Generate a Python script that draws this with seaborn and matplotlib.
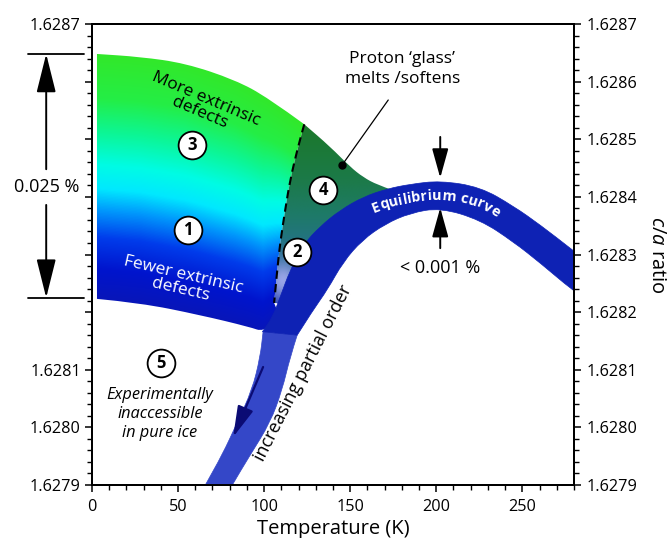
import numpy as np
import matplotlib
matplotlib.use("Agg")
import matplotlib.pyplot as plt
import seaborn as sns
from matplotlib.path import Path
from matplotlib.patches import PathPatch
from matplotlib.colors import LinearSegmentedColormap
from matplotlib.ticker import FixedLocator, FixedFormatter, MultipleLocator
from matplotlib.font_manager import FontProperties, findfont
from matplotlib.ft2font import FT2Font

sns.set_theme(style="ticks")
plt.rcParams["font.family"] = ["Open Sans", "DejaVu Sans"]
plt.rcParams["mathtext.fontset"] = "custom"
plt.rcParams["mathtext.rm"] = "Open Sans"
plt.rcParams["mathtext.it"] = "Open Sans:italic"
for k in ["axes.edgecolor", "xtick.color", "ytick.color", "text.color", "axes.labelcolor"]:
    plt.rcParams[k] = "black"

# ---------------- data ----------------
x_ticks = [0, 50, 100, 150, 200, 250]
y_ticks = [1.6279, 1.6280, 1.6281, 1.6282, 1.6283, 1.6284, 1.6285, 1.6286, 1.6287]
y_left_labels = ["1.6279", "1.6280", "1.6281", "", "", "", "", "", "1.6287"]
y_right_labels = ["1.6279", "1.6280", "1.6281", "1.6282", "1.6283",
                  "1.6284", "1.6285", "1.6286", "1.6287"]

# defect region (left of the glass transition)
main_top_T = [2.9, 27.9, 54.1, 83.1, 102.3, 123.3]
main_top_ca = [1.628648, 1.628643, 1.628632, 1.628603, 1.628572, 1.628526]
dash_T = [123.3, 119.2, 115.1, 112.2, 109.3, 107.6, 105.8]
dash_ca = [1.628526, 1.628481, 1.628429, 1.628377, 1.628320, 1.628273, 1.628216]
main_bot_T = [109.3, 99.4, 91.9, 62.8, 27.9, 2.9]
main_bot_ca = [1.628190, 1.628166, 1.628174, 1.628195, 1.628216, 1.628223]

# region 4 (proton glass softening)
r4_top_T = [123.3, 138.4, 150.0, 157.6, 165.7, 174.4]
r4_top_ca = [1.628526, 1.628487, 1.628452, 1.628434, 1.628421, 1.628412]
r4_bot_T = [174.4, 171.5, 157.6, 144.2, 132.6, 122.7, 115.1, 109.3]
r4_bot_ca = [1.628405, 1.628400, 1.628390, 1.628370, 1.628340, 1.628310, 1.628265, 1.628215]

# equilibrium band, upper (dark) part: upper edge and lower edge
band_top_T = [99.0, 104.7, 109.3, 115.1, 122.7, 132.6, 144.2, 157.6, 171.5,
              184.9, 202.3, 225.6, 244.8, 260.5, 279.1, 295.3]
band_top_ca = [1.628166, 1.628190, 1.628226, 1.628273, 1.628317, 1.628349, 1.628377,
               1.628400, 1.628414, 1.628422, 1.628428, 1.628417, 1.628384, 1.628351,
               1.628308, 1.628270]
band_bot_T = [295.3, 279.1, 260.5, 244.8, 225.6, 202.3, 184.9, 170.3, 157.0,
              145.9, 136.6, 128.5, 119.2]
band_bot_ca = [1.628204, 1.628238, 1.628285, 1.628322, 1.628360, 1.628381, 1.628372,
               1.628353, 1.628325, 1.628287, 1.628238, 1.628204, 1.628160]

# equilibrium band, lower (partial order) part
low_left_T = [99.4, 97.7, 93.0, 84.3, 75.6, 65.7, 62.2]
low_left_ca = [1.628166, 1.628122, 1.628065, 1.628008, 1.627952, 1.627900, 1.627879]
low_right_T = [77.9, 81.4, 91.9, 103.5, 110.5, 115.1, 119.2]
low_right_ca = [1.627879, 1.627900, 1.627952, 1.628008, 1.628065, 1.628122, 1.628160]

# markers / annotations
num_labels = ["3", "1", "2", "4", "5"]
num_T = [58.1, 55.8, 119.2, 134.3, 40.1]
num_ca = [1.628490, 1.6283425, 1.6283043, 1.6284119, 1.6281117]
span_ca = [1.628225, 1.628648]          # 0.025 % bracket
eq_gap_T = 202.3
eq_gap_ca = [1.628504, 1.628433, 1.628381, 1.628311]
leader_T = [172.1, 145.3]
leader_ca = [1.6285681, 1.6284553]
order_arrow_T = [99.4, 82.0]
order_arrow_ca = [1.6281048, 1.6279833]


def smooth_path(edges, close=True):
    """Quadratic-Bezier path through the read boundary points (library drawing)."""
    verts, codes = [], []
    for k, (xs, ys) in enumerate(edges):
        P = np.column_stack([xs, ys])
        verts.append(P[0])
        codes.append(Path.MOVETO if k == 0 else Path.LINETO)
        n = len(P)
        if n == 2:
            verts.append(P[1]); codes.append(Path.LINETO)
            continue
        verts.append((P[0] + P[1]) / 2); codes.append(Path.LINETO)
        for i in range(1, n - 1):
            end = (P[i] + P[i + 1]) / 2 if i < n - 2 else P[n - 1]
            verts += [P[i], end]
            codes += [Path.CURVE3, Path.CURVE3]
    if close:
        verts.append(verts[0]); codes.append(Path.CLOSEPOLY)
    return Path(np.array(verts), codes)


# ---------------- figure ----------------
fig = plt.figure(figsize=(6.7, 5.38), dpi=100)
ax = fig.add_axes([0.1373, 0.0985, 0.7194, 0.8569])
ax.set_xlim(0, 280)
ax.set_ylim(1.6279, 1.6287)

# main gradient region
main_path = smooth_path([(main_top_T, main_top_ca), (dash_T, dash_ca),
                         (main_bot_T, main_bot_ca)])
TT, CC = np.meshgrid(np.linspace(0, 130, 400), np.linspace(1.62815, 1.62866, 400))
top_f = np.interp(TT, main_top_T, main_top_ca)
bot_f = np.interp(TT, main_bot_T[::-1], main_bot_ca[::-1])
frac = np.clip((CC - bot_f) / (top_f - bot_f), 0, 1)
cmap_main = LinearSegmentedColormap.from_list("defects", [
    (0.00, (8/255, 22/255, 185/255)),
    (0.12, (0/255, 20/255, 205/255)),
    (0.25, (0/255, 60/255, 235/255)),
    (0.36, (0/255, 150/255, 252/255)),
    (0.45, (0/255, 232/255, 255/255)),
    (0.55, (0/255, 252/255, 228/255)),
    (0.68, (12/255, 246/255, 150/255)),
    (0.82, (36/255, 238/255, 70/255)),
    (1.00, (50/255, 232/255, 42/255))])
im1 = ax.imshow(frac, extent=[0, 130, 1.62815, 1.62866], origin="lower",
                cmap=cmap_main, vmin=0, vmax=1, aspect="auto",
                interpolation="bilinear", zorder=1)
p1 = PathPatch(main_path, facecolor="none", edgecolor="none")
ax.add_patch(p1)
im1.set_clip_path(p1)

# region 4
r4_path = smooth_path([(r4_top_T, r4_top_ca), (r4_bot_T, r4_bot_ca),
                       (dash_T[::-1], dash_ca[::-1])])
T4, C4 = np.meshgrid(np.linspace(100, 180, 300), np.linspace(1.62818, 1.62855, 300))
f4 = np.clip((C4 - 1.62821) / (1.628526 - 1.62821), 0, 1)
cmap_r4 = LinearSegmentedColormap.from_list("glass", [
    (0.00, (30/255, 50/255, 175/255)),
    (0.15, (45/255, 95/255, 170/255)),
    (0.30, (38/255, 112/255, 140/255)),
    (0.50, (30/255, 122/255, 105/255)),
    (0.70, (28/255, 122/255, 72/255)),
    (1.00, (27/255, 120/255, 42/255))])
im4 = ax.imshow(f4, extent=[100, 180, 1.62818, 1.62855], origin="lower",
                cmap=cmap_r4, vmin=0, vmax=1, aspect="auto",
                interpolation="bilinear", zorder=1)
p4 = PathPatch(r4_path, facecolor="none", edgecolor="none")
ax.add_patch(p4)
im4.set_clip_path(p4)
glow = np.zeros(T4.shape + (4,))
glow[..., 0], glow[..., 1], glow[..., 2] = 0.68, 0.70, 0.95
glow[..., 3] = 0.85 * np.exp(-0.5 * (((T4 - 111.0) / 6.5) ** 2 + ((C4 - 1.628255) / 2.4e-5) ** 2))
img = ax.imshow(glow, extent=[100, 180, 1.62818, 1.62855], origin="lower",
                aspect="auto", interpolation="bilinear", zorder=1.5)
img.set_clip_path(p4)

# equilibrium band
ax.add_patch(PathPatch(smooth_path([(low_left_T, low_left_ca), (low_right_T, low_right_ca)]),
                       facecolor="#3447c8", edgecolor="#3447c8", lw=0.5, zorder=3))
ax.add_patch(PathPatch(smooth_path([(band_top_T, band_top_ca), (band_bot_T, band_bot_ca)]),
                       facecolor="#0e22b4", edgecolor="#0e22b4", lw=0.5, zorder=3.2))

# dashed glass-transition line
ax.add_patch(PathPatch(smooth_path([(dash_T, dash_ca)], close=False), facecolor="none",
                       edgecolor="black", lw=1.5, linestyle=(0, (4, 2.5)), zorder=4))

# leader line for proton glass label
sns.lineplot(x=leader_T, y=leader_ca, sort=False, estimator=None, ax=ax,
             color="black", lw=0.9, zorder=5)
ax.plot(leader_T[1], leader_ca[1], "o", color="black", ms=5, zorder=5)

# circled numbers
sns.scatterplot(x=num_T, y=num_ca, s=400, color="white", edgecolor="black",
                linewidth=1.3, ax=ax, zorder=6)
for lab, t, c in zip(num_labels, num_T, num_ca):
    ax.text(t, c, lab, ha="center", va="center", fontsize=12,
            fontweight="bold", zorder=7)

# texts
ax.text(64.5, 1.628558, "More extrinsic\ndefects", rotation=-23,
        rotation_mode="anchor", ha="center", va="center", fontsize=12.5,
        linespacing=0.95, zorder=6)
ax.text(52.3, 1.628252, "Fewer extrinsic\ndefects", rotation=-13,
        rotation_mode="anchor", ha="center", va="center", fontsize=12.5,
        linespacing=0.95, color="white", zorder=6)
ax.text(180.2, 1.628622, "Proton \u2018glass\u2019\nmelts /softens", ha="center",
        va="center", fontsize=12.5, linespacing=1.4, zorder=6)
ax.text(202.3, 1.6282766, "< 0.001 %", ha="center", va="center", fontsize=13, zorder=6)
ax.text(39.5, 1.6280232, "Experimentally\ninaccessible\nin pure ice", ha="center",
        va="center", fontsize=11.8, style="italic", linespacing=1.28, zorder=6)
ax.text(122.7, 1.6280943, "increasing partial order", rotation=63,
        rotation_mode="anchor", ha="center", va="center", fontsize=13, zorder=6)

# arrows at peak
ap = dict(arrowstyle="-|>,head_length=1.8,head_width=0.5", color="black",
          lw=1.4, shrinkA=0, shrinkB=0, mutation_scale=10)
ax.annotate("", xy=(eq_gap_T, eq_gap_ca[1]), xytext=(eq_gap_T, eq_gap_ca[0]),
            arrowprops=ap, zorder=6)
ax.annotate("", xy=(eq_gap_T, eq_gap_ca[2]), xytext=(eq_gap_T, eq_gap_ca[3]),
            arrowprops=ap, zorder=6)

# partial-order arrow in band
ax.annotate("", xy=(order_arrow_T[1], order_arrow_ca[1]),
            xytext=(order_arrow_T[0], order_arrow_ca[0]),
            arrowprops=dict(arrowstyle="-|>,head_length=1.9,head_width=0.5",
                            color="#0b0b74", lw=1.6, shrinkA=0, shrinkB=0,
                            mutation_scale=10), zorder=6)

# 0.025 % bracket (outside the axes, left)
ap_big = dict(arrowstyle="-|>,head_length=2.4,head_width=0.6", color="black",
              lw=1.4, shrinkA=0, shrinkB=0, mutation_scale=10)
ytr = ax.get_yaxis_transform()
for v in span_ca:
    ax.plot([-0.133, -0.017], [v, v], transform=ytr, clip_on=False,
            color="black", lw=1.3)
ax.text(-0.095, 1.628417, "0.025 %", transform=ytr, ha="center", va="center",
        fontsize=13)
ax.annotate("", xy=(-0.095, span_ca[1]), xytext=(-0.095, 1.628448),
            xycoords=ytr, textcoords=ytr, arrowprops=ap_big, annotation_clip=False)
ax.annotate("", xy=(-0.095, span_ca[0]), xytext=(-0.095, 1.628386),
            xycoords=ytr, textcoords=ytr, arrowprops=ap_big, annotation_clip=False)

# axes formatting
ax.xaxis.set_major_locator(FixedLocator(x_ticks))
ax.xaxis.set_minor_locator(MultipleLocator(10))
ax.yaxis.set_major_locator(FixedLocator(y_ticks))
ax.yaxis.set_major_formatter(FixedFormatter(y_left_labels))
ax.yaxis.set_minor_locator(MultipleLocator(0.00002))
ax.tick_params(which="major", length=5, width=1.1, labelsize=11.7, pad=3)
ax.tick_params(axis="x", which="major", pad=5)
ax.tick_params(which="minor", length=3.5, width=1.0)
ax.tick_params(axis="x", top=False, which="both")
ax.set_xlabel("Temperature (K)", fontsize=14.5, labelpad=3)
for sp in ax.spines.values():
    sp.set_linewidth(1.4)
    sp.set_visible(True)

ax2 = ax.twinx()
ax2.set_ylim(1.6279, 1.6287)
ax2.yaxis.set_major_locator(FixedLocator(y_ticks))
ax2.yaxis.set_major_formatter(FixedFormatter(y_right_labels))
ax2.yaxis.set_minor_locator(MultipleLocator(0.00002))
ax2.tick_params(which="major", length=5, width=1.1, labelsize=11.7, pad=4)
ax2.tick_params(which="minor", length=3.5, width=1.0)
ax2.set_ylabel(r"$c/a$ ratio", rotation=270, fontsize=14.5, labelpad=7, va="bottom")
for sp in ax2.spines.values():
    sp.set_linewidth(1.4)

# curved "Equilibrium curve" label along the band (baseline offset inside the band)
label = "Equilibrium curve"
fs = 10.4
fp = FontProperties(family="Open Sans", weight="bold", size=fs)
font = FT2Font(findfont(fp))
font.set_size(fs, fig.dpi)
adv = np.array([font.load_char(ord(ch)).linearHoriAdvance / 65536.0 for ch in label])
top_disp = ax.transData.transform_path(
    smooth_path([(band_top_T, band_top_ca)], close=False))
edge = np.vstack(top_disp.to_polygons(closed_only=False))
tang = np.gradient(edge, axis=0)
tang /= np.hypot(tang[:, 0], tang[:, 1])[:, None] + 1e-12
normal = np.column_stack([tang[:, 1], -tang[:, 0]])
base = edge + normal * 18.0
s = np.concatenate([[0], np.cumsum(np.hypot(*np.diff(base, axis=0).T))])
s_c = np.interp(436.0, base[:, 0], s)
centers = s_c - adv.sum() / 2 + np.cumsum(adv) - adv / 2
inv = ax.transData.inverted()
for ch, sc in zip(label, centers):
    p = np.array([np.interp(sc, s, base[:, 0]), np.interp(sc, s, base[:, 1])])
    pa = np.array([np.interp(sc - 5, s, base[:, 0]), np.interp(sc - 5, s, base[:, 1])])
    pb = np.array([np.interp(sc + 5, s, base[:, 0]), np.interp(sc + 5, s, base[:, 1])])
    th = np.arctan2(pb[1] - pa[1], pb[0] - pa[0])
    q = inv.transform(p)
    ax.text(q[0], q[1], ch, rotation=np.degrees(th), rotation_mode="anchor",
            ha="center", va="baseline", fontproperties=fp, color="white", zorder=6)

fig.savefig("out.png", dpi=100)
